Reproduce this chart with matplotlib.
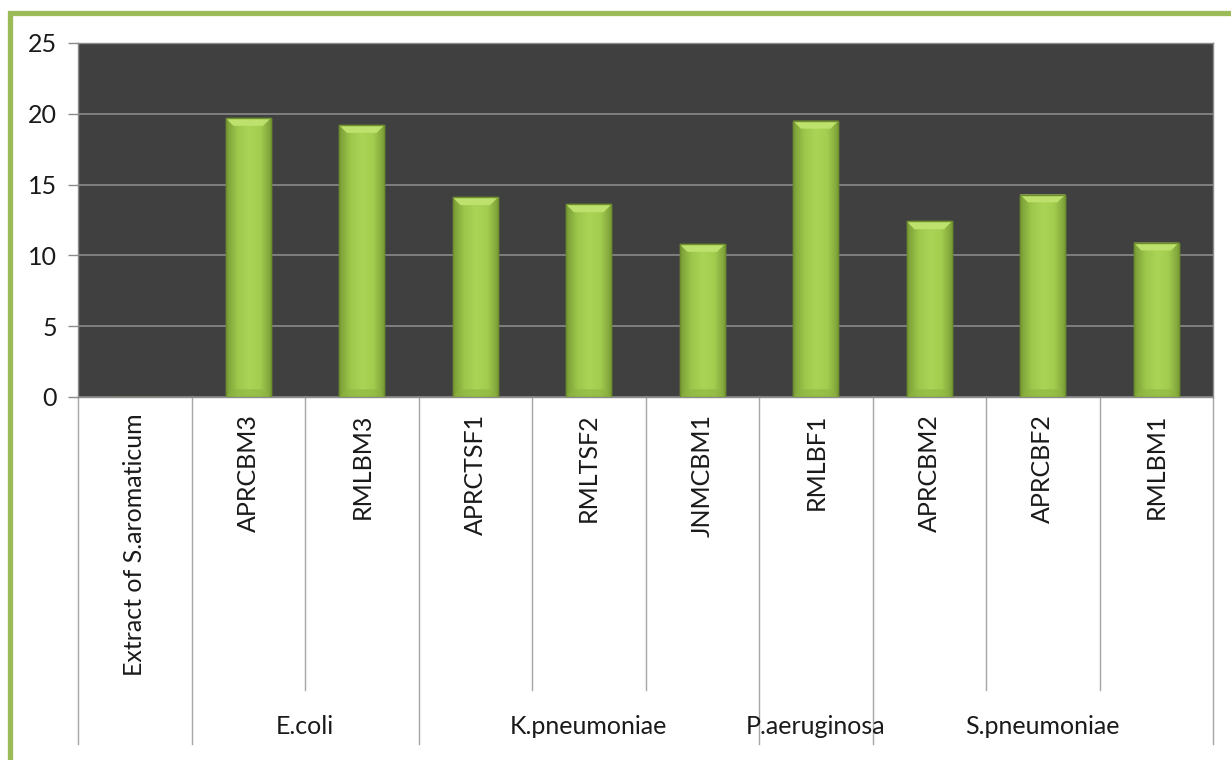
import matplotlib
matplotlib.use("Agg")
import matplotlib.pyplot as plt
import matplotlib.transforms as mtransforms
from matplotlib.colors import LinearSegmentedColormap
from matplotlib.patches import Polygon, Rectangle
import numpy as np

plt.rcParams['font.family'] = ['Lato', 'DejaVu Sans']

# data
isolates = ["Extract of S.aromaticum", "APRCBM3", "RMLBM3", "APRCTSF1", "RMLTSF2",
            "JNMCBM1", "RMLBF1", "APRCBM2", "APRCBF2", "RMLBM1"]
zones = [0, 19.7, 19.2, 14.1, 13.6, 10.8, 19.5, 12.4, 14.3, 10.9]
groups = ["", "E.coli", "K.pneumoniae", "P.aeruginosa", "S.pneumoniae"]
group_sizes = [1, 2, 3, 1, 3]
yticks = [0, 5, 10, 15, 20, 25]

W, H = 1231, 760
fig = plt.figure(figsize=(W / 100, H / 100), dpi=100)
fig.patch.set_facecolor('white')

# green frame
fig.patches.append(Rectangle((10 / W, -0.1), 1.2, 1.1 - 12.5 / H, transform=fig.transFigure,
                             fill=False, edgecolor='#9BBB59', linewidth=3.8, zorder=0))

left, right, top, bottom = 78, 1213, 43, 397
ax = fig.add_axes([left / W, 1 - bottom / H, (right - left) / W, (bottom - top) / H])
ax.set_facecolor('#404040')

x = np.arange(len(isolates))
bars = ax.bar(x, zones, width=0.4, color='#9BC84A', edgecolor='#6E8F2E', linewidth=1.0, zorder=3)

cmap = LinearSegmentedColormap.from_list('bar', ['#7A9C36', '#9CC74B', '#A9D455', '#A2CD4F', '#7A9C36'])
grad = np.linspace(0, 1, 200).reshape(1, -1)
for b in bars:
    h = b.get_height()
    if h <= 0:
        continue
    x0, w = b.get_x(), b.get_width()
    im = ax.imshow(grad, extent=(x0, x0 + w, 0, h), aspect='auto', cmap=cmap, zorder=3.5,
                   interpolation='bicubic')
    im.set_clip_path(b)
    dx, dy = 0.07, 0.55
    ax.add_patch(Polygon([(x0, h), (x0 + w, h), (x0 + w - dx, h - dy), (x0 + dx, h - dy)],
                         closed=True, facecolor='#BDE16C', edgecolor='none', zorder=4))
    ax.add_patch(Polygon([(x0, 0), (x0 + w, 0), (x0 + w - dx, dy), (x0 + dx, dy)],
                         closed=True, facecolor='#8DB442', edgecolor='none', zorder=4, alpha=0.6))
    ax.add_patch(Rectangle((x0, 0), w, h, fill=False, edgecolor='#6E8F2E', linewidth=1.0, zorder=4.5))

ax.set_xlim(-0.5, len(isolates) - 0.5)
ax.set_ylim(0, 25)
ax.set_yticks(yticks)
ax.yaxis.grid(True, color='#8A8A8A', linewidth=1.2, zorder=1)
ax.set_axisbelow(True)
ax.tick_params(axis='y', length=7, width=1, color='#8C8C8C', labelsize=18, pad=8,
               labelcolor='#1A1A1A')
for s in ax.spines.values():
    s.set_color('#8C8C8C')
    s.set_linewidth(1)

ax.set_xticks(x)
ax.set_xticklabels(isolates, rotation=90, fontsize=18, color='#1A1A1A')
ax.tick_params(axis='x', length=0, pad=12)

# multi-level category axis
trans = mtransforms.blended_transform_factory(ax.transData, ax.transAxes)
full_b = [-0.5]
pos = -0.5
for g, n in zip(groups, group_sizes):
    if g:
        ax.text(pos + n / 2, -0.932, g, transform=trans, ha='center', va='center',
                fontsize=18, color='#1A1A1A')
    for k in range(1, n):
        ax.plot([pos + k, pos + k], [0, -0.828], transform=trans, color='#A6A6A6',
                linewidth=1, clip_on=False)
    pos += n
    full_b.append(pos)
for bx in full_b:
    ax.plot([bx, bx], [0, -0.98], transform=trans, color='#A6A6A6', linewidth=1, clip_on=False)

fig.savefig('out.png', dpi=100)
